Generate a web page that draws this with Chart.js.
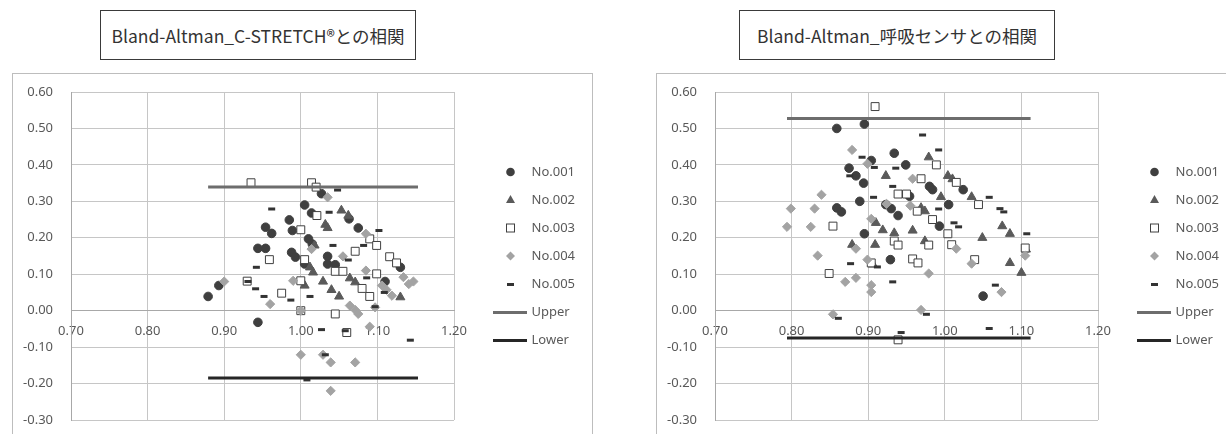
<!DOCTYPE html>
<html><head><meta charset="utf-8">
<script src="https://cdn.jsdelivr.net/npm/chart.js@4.4.0/dist/chart.umd.min.js"></script>
<style>
body{margin:0;width:1226px;height:434px;background:#fff;position:relative;overflow:hidden;font-family:"Noto Sans CJK JP",sans-serif;}
.title{position:absolute;top:10px;height:50px;width:316px;border:1px solid #3a3a3a;display:flex;align-items:center;justify-content:center;font-size:17.5px;color:#333;box-sizing:border-box;white-space:nowrap;}
.frame{position:absolute;top:73px;border:1px solid #bdbdbd;height:420px;box-sizing:border-box;}
canvas{position:absolute;top:74px;}
</style></head>
<body>
<div class="title" style="left:100px;">Bland-Altman_C-STRETCH®との相関</div>
<div class="title" style="left:739px;">Bland-Altman_呼吸センサとの相関</div>
<div class="frame" style="left:12px;width:581px;"></div>
<div class="frame" style="left:656px;width:600px;"></div>
<canvas id="c1" width="578" height="360" style="left:13px;"></canvas>
<canvas id="c2" width="569" height="360" style="left:657px;"></canvas>
<script>
// ---------- data (x = mean, y = difference) ----------
const seriesNames = ['No.001','No.002','No.003','No.004','No.005','Upper','Lower'];
const xTicks = [0.70,0.80,0.90,1.00,1.10,1.20];
const yTicks = [-0.30,-0.20,-0.10,0.00,0.10,0.20,0.30,0.40,0.50,0.60];

// Left chart: C-STRETCH
const L001 = [[0.879,0.039],[0.893,0.069],[0.944,-0.032],[0.954,0.229],[0.944,0.171],[0.954,0.171],[0.962,0.212],[0.985,0.249],[0.989,0.220],[0.988,0.160],[0.993,0.147],[1.005,0.290],[1.014,0.268],[1.010,0.197],[1.015,0.183],[1.027,0.321],[1.035,0.149],[1.035,0.128],[1.045,0.126],[1.063,0.252],[1.075,0.227],[1.110,0.080],[1.130,0.119],[1.005,0.128]];
const L002 = [[1.053,0.275],[1.062,0.261],[1.032,0.236],[1.035,0.227],[1.018,0.179],[1.005,0.069],[1.016,0.105],[1.029,0.080],[1.040,0.057],[1.050,0.039],[1.064,0.089],[1.071,0.078],[1.130,0.037],[1.012,0.119]];
const L003 = [[0.935,0.351],[1.014,0.351],[1.020,0.339],[1.021,0.261],[1.000,0.222],[0.959,0.140],[0.930,0.081],[0.975,0.048],[1.000,0.082],[1.000,0.000],[1.045,0.108],[1.055,0.108],[1.071,0.163],[1.090,0.197],[1.099,0.179],[1.116,0.148],[1.125,0.131],[1.099,0.101],[1.080,0.061],[1.090,0.039],[1.045,-0.009],[1.060,-0.060],[1.005,0.140]];
const L004 = [[0.900,0.080],[0.960,0.018],[0.990,0.082],[1.035,0.311],[1.085,0.211],[1.055,0.149],[1.014,0.169],[1.085,0.110],[1.064,0.014],[1.071,0.002],[1.075,-0.009],[1.106,0.069],[1.112,0.057],[1.119,0.041],[1.134,0.092],[1.147,0.080],[1.141,0.073],[1.097,0.009],[1.090,-0.044],[1.000,-0.121],[1.029,-0.121],[1.039,-0.142],[1.071,-0.142],[1.039,-0.220],[1.000,0.000]];
const L005 = [[0.962,0.279],[0.942,0.119],[0.941,0.060],[0.952,0.039],[0.931,0.080],[0.987,0.029],[1.012,0.039],[1.037,0.270],[1.048,0.331],[1.042,0.179],[1.062,0.139],[1.086,0.090],[1.102,0.220],[1.082,0.179],[1.097,0.011],[1.109,0.050],[1.027,-0.052],[1.032,-0.121],[1.008,-0.190],[1.143,-0.081],[1.058,-0.055]];
const LUpper = [[0.879,0.339],[1.153,0.339]];
const LLower = [[0.879,-0.185],[1.153,-0.185]];

// Right chart: 呼吸センサ
const R001 = [[0.859,0.500],[0.895,0.512],[0.934,0.432],[0.904,0.412],[0.949,0.400],[0.875,0.391],[0.884,0.370],[0.894,0.350],[0.859,0.282],[0.865,0.271],[0.889,0.300],[0.895,0.211],[0.923,0.291],[0.930,0.280],[0.939,0.261],[0.980,0.341],[0.984,0.332],[1.005,0.291],[0.993,0.232],[1.024,0.332],[1.050,0.040],[0.929,0.140],[0.954,0.314]];
const R002 = [[0.979,0.421],[0.923,0.370],[1.004,0.370],[1.010,0.361],[0.995,0.312],[1.035,0.312],[0.969,0.282],[0.974,0.273],[0.910,0.241],[0.919,0.221],[0.934,0.213],[0.958,0.220],[0.879,0.181],[0.909,0.181],[0.974,0.191],[1.049,0.200],[1.075,0.232],[1.085,0.211],[1.085,0.131],[1.100,0.104],[1.106,0.168],[0.906,0.127]];
const R003 = [[0.909,0.560],[0.989,0.400],[0.969,0.362],[1.015,0.352],[1.044,0.291],[0.939,0.320],[0.950,0.320],[0.964,0.273],[0.984,0.250],[1.004,0.211],[1.009,0.181],[0.934,0.191],[0.939,0.180],[0.979,0.180],[0.854,0.232],[0.904,0.131],[0.849,0.102],[0.958,0.142],[0.965,0.131],[1.039,0.140],[1.105,0.172],[0.939,-0.080]];
const R004 = [[0.879,0.441],[0.899,0.403],[0.839,0.318],[0.799,0.280],[0.830,0.280],[0.794,0.230],[0.825,0.230],[0.958,0.362],[0.924,0.293],[0.904,0.252],[0.834,0.151],[0.884,0.170],[0.899,0.140],[0.870,0.079],[0.884,0.090],[0.904,0.070],[0.904,0.051],[0.979,0.102],[0.854,-0.010],[0.969,0.002],[1.015,0.170],[1.035,0.129],[1.074,0.051],[1.105,0.151],[0.955,0.288]];
const R005 = [[0.971,0.482],[0.992,0.441],[0.892,0.421],[0.936,0.391],[0.908,0.393],[0.907,0.311],[0.932,0.341],[0.876,0.370],[1.058,0.311],[1.072,0.280],[1.077,0.271],[0.992,0.279],[1.012,0.241],[1.018,0.230],[1.107,0.211],[0.877,0.129],[0.912,0.120],[0.932,0.079],[1.066,0.070],[0.861,-0.021],[0.976,-0.010],[1.058,-0.049],[0.943,-0.060]];
const RUpper = [[0.794,0.527],[1.112,0.527]];
const RLower = [[0.794,-0.075],[1.112,-0.075]];

// ---------- styles ----------
const C1='#3f3f3f', C2='#5a5a5a', C3='#404040', C4='#a3a3a3', C5='#333333', CU='#6d6d6d', CL='#262626';
const FONT = {family:'"Noto Sans", sans-serif', size:13};
const TXT = '#595959';

function legendImg(kind){
  const c=document.createElement('canvas'); c.width=64; c.height=14;
  const g=c.getContext('2d'); const cx=45.5, cy=7;
  if(kind===0){g.fillStyle=C1;g.beginPath();g.arc(cx,cy,4.3,0,Math.PI*2);g.fill();}
  else if(kind===1){g.fillStyle=C2;g.beginPath();g.moveTo(cx,cy-5);g.lineTo(cx+4.5,cy+3);g.lineTo(cx-4.5,cy+3);g.closePath();g.fill();}
  else if(kind===2){g.fillStyle='#fff';g.strokeStyle=C3;g.lineWidth=1;g.fillRect(cx-4,cy-4,8,8);g.strokeRect(cx-4,cy-4,8,8);}
  else if(kind===3){g.fillStyle=C4;g.beginPath();g.moveTo(cx-4.5,cy);g.lineTo(cx,cy-4.5);g.lineTo(cx+4.5,cy);g.lineTo(cx,cy+4.5);g.closePath();g.fill();}
  else if(kind===4){g.fillStyle=C5;g.fillRect(42,6,7,3);}
  else if(kind===5){g.fillStyle=CU;g.fillRect(28,6,34,3);}
  else {g.fillStyle=CL;g.fillRect(28,6,34,3);}
  return c;
}
const legendImgs = [0,1,2,3,4,5,6].map(legendImg);

function pts(a){return a.map(p=>({x:p[0],y:p[1]}));}

function makeChart(id, s1,s2,s3,s4,s5,up,lo){
  const datasets = [
    {label:seriesNames[0], data:pts(s1), pointStyle:'circle', pointRadius:4.3, backgroundColor:C1, borderColor:C1, borderWidth:1, order:6},
    {label:seriesNames[1], data:pts(s2), pointStyle:'triangle', pointRadius:5.2, backgroundColor:C2, borderColor:C2, borderWidth:1, order:5},
    {label:seriesNames[2], data:pts(s3), pointStyle:'rect', pointRadius:5.6, backgroundColor:'#ffffff', borderColor:C3, borderWidth:1, order:4},
    {label:seriesNames[3], data:pts(s4), pointStyle:'rectRot', pointRadius:4.6, backgroundColor:C4, borderColor:C4, borderWidth:1, order:3},
    {label:seriesNames[4], data:pts(s5), pointStyle:'line', pointRadius:3.5, backgroundColor:C5, borderColor:C5, borderWidth:3, order:2},
    {label:seriesNames[5], data:pts(up), showLine:true, pointRadius:0, borderColor:CU, borderWidth:3, order:1},
    {label:seriesNames[6], data:pts(lo), showLine:true, pointRadius:0, borderColor:CL, borderWidth:3, order:0}
  ];
  const chart = new Chart(document.getElementById(id), {
    type:'scatter',
    data:{datasets},
    options:{
      responsive:false, animation:false, events:[],
      layout:{padding:{left:0,top:18,bottom:14,right:10}},
      scales:{
        x:{type:'linear', min:xTicks[0], max:xTicks[xTicks.length-1], position:{y:0},
           afterBuildTicks:s=>{s.ticks=xTicks.map(v=>({value:v}));},
           ticks:{callback:v=>Number(v).toFixed(2), color:TXT, font:FONT, padding:13, maxRotation:0, autoSkip:false},
           grid:{color:'#c6c6c6', drawTicks:false, lineWidth:1},
           border:{color:'#a8a8a8', width:1}},
        y:{type:'linear', min:yTicks[0], max:yTicks[yTicks.length-1],
           afterBuildTicks:s=>{s.ticks=yTicks.map(v=>({value:v}));},
           afterFit:s=>{s.width=58; s.paddingTop=0; s.paddingBottom=0;},
           ticks:{callback:v=>Number(v).toFixed(2), color:TXT, font:FONT, padding:18},
           grid:{color:'#c6c6c6', drawTicks:false, lineWidth:1},
           border:{color:'#a8a8a8', width:1}}
      },
      plugins:{
        tooltip:{enabled:false},
        legend:{position:'right', align:'center', fullSize:false,
          labels:{usePointStyle:true, pointStyleWidth:56, padding:15, font:FONT, color:TXT,
            generateLabels:ch=>ch.data.datasets.map((d,i)=>({text:d.label, pointStyle:legendImgs[i], fillStyle:'rgba(0,0,0,0)', strokeStyle:'rgba(0,0,0,0)', lineWidth:0, hidden:false, datasetIndex:i, fontColor:TXT}))
          }}
      }
    }
  });
  const dx = chart.chartArea.right - 441;
  if (Math.abs(dx) > 0.01){ chart.options.layout.padding.right += dx; chart.update('none'); }
  return chart;
}
makeChart('c1', L001,L002,L003,L004,L005,LUpper,LLower);
makeChart('c2', R001,R002,R003,R004,R005,RUpper,RLower);
</script>
</body></html>
